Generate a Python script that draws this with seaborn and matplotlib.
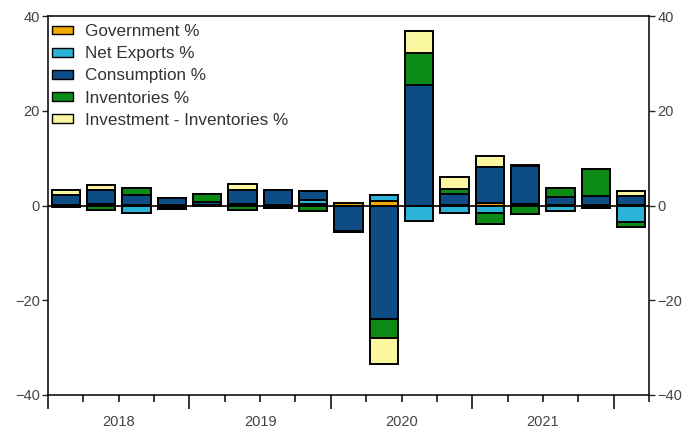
import numpy as np
import pandas as pd
import seaborn as sns
import matplotlib.pyplot as plt
from matplotlib.patches import Patch
from matplotlib.transforms import blended_transform_factory

# Quarterly contributions (percentage points), 2018Q1 .. 2022Q1
quarters = ["2018Q1", "2018Q2", "2018Q3", "2018Q4",
            "2019Q1", "2019Q2", "2019Q3", "2019Q4",
            "2020Q1", "2020Q2", "2020Q3", "2020Q4",
            "2021Q1", "2021Q2", "2021Q3", "2021Q4",
            "2022Q1"]
government = [0.2, 0.3, 0.1, 0.1, 0.2, 0.4, 0.2, 0.3, 0.5, 0.9, 0.0, 0.2, 0.6, 0.3, 0.2, 0.1, 0.1]
net_exports = [-0.3, 0.0, -1.6, -0.4, 0.0, 0.0, 0.0, 0.8, 0.0, 1.3, -3.3, -1.5, -1.5, 0.0, -1.2, -0.6, -3.5]
consumption = [2.0, 3.0, 2.2, 1.5, 0.6, 2.9, 3.0, 2.0, -5.3, -24.0, 25.5, 2.3, 7.6, 8.0, 1.6, 2.0, 2.0]
inventories = [0.0, -1.0, 1.3, -0.4, 1.6, -1.0, -0.5, -1.2, -0.3, -4.0, 6.7, 1.0, -2.5, -1.8, 1.9, 5.5, -1.0]
investment_ex_inv = [1.1, 1.0, 0.0, 0.0, 0.0, 1.2, 0.0, 0.0, 0.0, -5.5, 4.6, 2.6, 2.3, 0.3, 0.0, 0.0, 1.0]

series_names = ["Government %", "Net Exports %", "Consumption %",
                "Inventories %", "Investment - Inventories %"]
series_colors = ["#F2A900", "#2AB3D6", "#0D4C85", "#0B8A16", "#FBF7A0"]
year_labels = ["2018", "2019", "2020", "2021"]

df = pd.DataFrame({
    "Government %": government,
    "Net Exports %": net_exports,
    "Consumption %": consumption,
    "Inventories %": inventories,
    "Investment - Inventories %": investment_ex_inv,
}, index=quarters)

sns.set_style("ticks")
plt.rcParams["font.family"] = ["Liberation Sans", "DejaVu Sans"]

fig = plt.figure(figsize=(6.87, 4.28), dpi=100)
ax = fig.add_axes([48 / 687, 33 / 428, 601 / 687, 379 / 428])

# stack positives upward and negatives downward, drawn outermost first
pos_cum = df.clip(lower=0).cumsum(axis=1)
neg_cum = df.clip(upper=0).cumsum(axis=1)
for name, color in reversed(list(zip(series_names, series_colors))):
    for cum in (pos_cum, neg_cum):
        sns.barplot(x=quarters, y=cum[name].values, order=quarters,
                    color=color, saturation=1, edgecolor="black",
                    linewidth=1.4, width=0.8, errorbar=None, ax=ax, zorder=2)

ax.axhline(0, color="black", lw=1.2, zorder=3)

ax.set_ylim(-40, 40)
ax.set_xlim(-0.5, len(quarters) - 0.5)
ax.set_xlabel("")
ax.set_ylabel("")

for side in ["left", "right", "top", "bottom"]:
    ax.spines[side].set_visible(True)
    ax.spines[side].set_color("black")
    ax.spines[side].set_linewidth(1.1)

ax.set_yticks([-40, -20, 0, 20, 40])
ax.tick_params(axis="y", direction="out", length=4, width=1, pad=2,
               left=True, right=True, labelleft=True, labelright=True,
               labelsize=10.5, labelcolor="#444444")

bounds = np.arange(-0.5, len(quarters), 1.0)
year_bounds = bounds[::4]
ax.set_xticks(year_bounds)
ax.set_xticklabels([])
ax.set_xticks([b for b in bounds if b not in year_bounds], minor=True)
ax.tick_params(axis="x", which="major", direction="out", length=10, width=1.3)
ax.tick_params(axis="x", which="minor", direction="out", length=5, width=1.3)

trans = blended_transform_factory(ax.transData, ax.transAxes)
for i, yl in enumerate(year_labels):
    ax.text(4 * i + 1.5, -0.052, yl, transform=trans, ha="center", va="top",
            fontsize=10.5, color="#444444")

handles = [Patch(facecolor=c, edgecolor="black", linewidth=1) for c in series_colors]
ax.legend(handles, series_names, loc="upper left", bbox_to_anchor=(0, 0.99),
          frameon=False, fontsize=12.3, handlelength=1.2, handleheight=0.42,
          handletextpad=0.72, labelspacing=0.42, borderpad=0.1,
          borderaxespad=0.15, labelcolor="#333333")

fig.savefig("out.png", dpi=100)
